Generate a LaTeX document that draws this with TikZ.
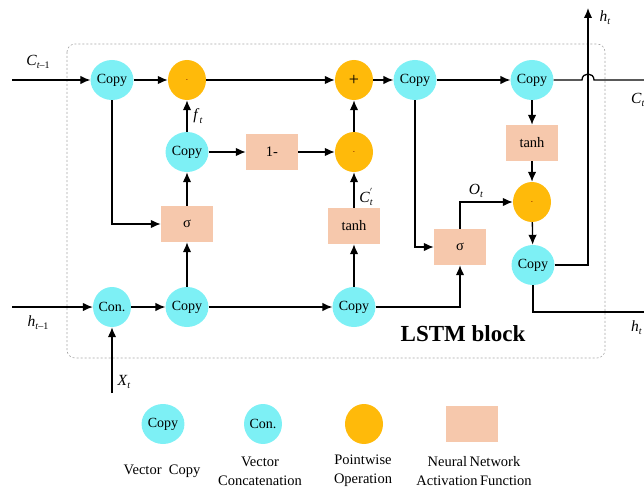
\documentclass[tikz,border=0pt]{standalone}
\usepackage{fontspec}
\setmainfont{Liberation Serif}
\usetikzlibrary{shapes.geometric,arrows.meta}
\definecolor{cyanc}{RGB}{125,240,245}
\definecolor{orangec}{RGB}{255,186,10}
\definecolor{salmonc}{RGB}{246,200,172}
\definecolor{dotc}{RGB}{120,20,0}
\newcommand{\sub}[2]{\textit{#1}\raisebox{-0.45ex}{\fontsize{10}{11}\selectfont\textit{#2}}}
\begin{document}
\begin{tikzpicture}[x=1pt,y=-1pt,
  cp/.style={ellipse,fill=cyanc,minimum width=37pt,minimum height=40pt,inner sep=0pt,font=\fontsize{14}{16}\selectfont},
  op/.style={ellipse,fill=orangec,minimum width=38pt,minimum height=40pt,inner sep=0pt,font=\fontsize{18}{18}\selectfont},
  nn/.style={rectangle,fill=salmonc,minimum width=52pt,minimum height=36pt,inner sep=0pt,font=\fontsize{14.5}{16}\selectfont},
  arr/.style={-{Latex[length=10pt,width=8.5pt]},line width=1.3pt},
  ln/.style={line width=1.3pt},
  lbl/.style={inner sep=0pt,font=\fontsize{15.5}{17}\selectfont},
  leg/.style={inner sep=0pt,align=center,font=\fontsize{14.5}{19}\selectfont}]
\useasboundingbox (0,0) rectangle (644,489);
% frame
\draw[gray!70,line width=0.6pt,dash pattern=on 2pt off 2pt,rounded corners=8pt] (67,44) rectangle (605,358);
% nodes
\node[cp] (c1) at (112,80) {Copy};
\node[op] (m1) at (187,80) {\textcolor{dotc}{\fontsize{10}{10}\selectfont$\cdot$}};
\node[cp] (c2) at (187,152) {Copy};
\node[nn] (one) at (272,152) {1-};
\node[nn] (s1) at (187,224) {σ};
\node[cp] (con) at (112,307) {Con.};
\node[cp] (c6) at (187,307) {Copy};
\node[cp] (c7) at (354,307) {Copy};
\node[nn] (t1) at (354,226) {tanh};
\node[op] (m2) at (354,152) {\textcolor{dotc}{\fontsize{10}{10}\selectfont$\cdot$}};
\node[op] (p) at (354,80) {+};
\node[cp] (c3) at (415,80) {Copy};
\node[cp] (c4) at (532,80) {Copy};
\node[nn] (t2) at (532,143) {tanh};
\node[op] (m3) at (532,202) {\textcolor{dotc}{\fontsize{10}{10}\selectfont$\cdot$}};
\node[cp] (c5) at (533,265) {Copy};
\node[nn] (s2) at (460,247) {σ};
\node[font=\fontsize{23}{26}\selectfont\bfseries] (blk) at (463,334) {LSTM block};
% coordinates
\coordinate (cin) at (12,80);
\coordinate (hin) at (12,307);
\coordinate (xin) at (112,393);
\coordinate (hop1) at (582,80);
\coordinate (hop2) at (594,80);
\coordinate (cout) at (644,80);
\coordinate (hc) at (588,265);
\coordinate (htop) at (588,8);
\coordinate (hout) at (644,312);
% connectors
\draw[arr] (cin) -- (c1);
\draw[arr] (c1) -- (m1);
\draw[arr] (m1) -- (p);
\draw[arr] (p) -- (c3);
\draw[arr] (c3) -- (c4);
\draw[ln] (c4) -- (hop1) .. controls (582,72) and (594,72) .. (hop2) -- (cout);
\draw[arr] (c1.south) |- (s1.west);
\draw[arr] (s1) -- (c2);
\draw[arr] (c2) -- (m1);
\draw[arr] (c2) -- (one);
\draw[arr] (one) -- (m2);
\draw[arr] (t1) -- (m2);
\draw[arr] (m2) -- (p);
\draw[arr] (hin) -- (con);
\draw[arr] (xin) -- (con);
\draw[arr] (con) -- (c6);
\draw[arr] (c6) -- (c7);
\draw[arr] (c6) -- (s1);
\draw[arr] (c7) -- (t1);
\draw[arr] (c7) -| (s2.south);
\draw[arr] (c3.south) |- (s2.west);
\draw[arr] (s2.north) |- (m3.west);
\draw[arr] (c4) -- (t2);
\draw[arr] (t2) -- (m3);
\draw[arr] (m3) -- (c5);
\draw[arr] (c5.east) -- (hc) -- (htop);
\draw[ln] (c5.south) |- (hout);
% labels
\node[lbl] (lc) at (38,62) {\sub{C}{t}\raisebox{-0.45ex}{\fontsize{10}{11}\selectfont –1}};
\node[lbl] (lh) at (38,323) {\sub{h}{t}\raisebox{-0.45ex}{\fontsize{10}{11}\selectfont –1}};
\node[lbl] (lx) at (124,382) {\sub{X}{t}};
\node[lbl] (lf) at (198,116) {\sub{f}{t}};
\node[lbl] (lcp) at (366,197) {\textit{C}\rlap{\raisebox{0.9ex}{\fontsize{9}{9}\selectfont$'$}}\raisebox{-0.45ex}{\fontsize{10}{11}\selectfont\textit{t}}};
\node[lbl] (lo) at (476,191) {\sub{O}{t}};
\node[lbl] (lht) at (605,18) {\sub{h}{t}};
\node[lbl,anchor=west] (lct) at (631,100) {\sub{C}{t}};
\node[lbl,anchor=west] (lhr) at (631,328) {\sub{h}{t}};
% legend
\node[cp] (lg1) at (163,424) {Copy};
\node[cp] (lg2) at (263,424) {Con.};
\node[op] (lg3) at (364,424) {};
\node[nn] (lg4) at (472,424) {};
\node[leg] (lt1) at (162,471) {Vector\ \ Copy};
\node[leg] (lt2) at (260,471) {Vector\\Concatenation};
\node[leg] (lt3) at (363,471) {Pointwise\\Operation};
\node[leg] (lt4) at (474,471) {Neural\,Network\\Activation\,Function};
\end{tikzpicture}
\end{document}
